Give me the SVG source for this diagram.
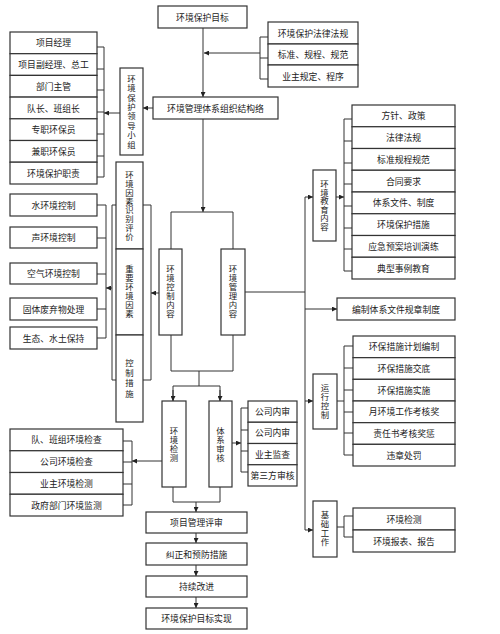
<svg xmlns="http://www.w3.org/2000/svg" width="500" height="634" viewBox="0 0 500 634">
<defs>
<style>
.bx{fill:#fff;stroke:#333;stroke-width:1.2}
.ln{fill:none;stroke:#333;stroke-width:1}
.t{font-family:"Noto Sans CJK SC","Noto Sans CJK JP",sans-serif;font-size:8.8px;fill:#222;text-anchor:middle;dominant-baseline:central}
.v{font-family:"Noto Sans CJK SC","Noto Sans CJK JP",sans-serif;font-size:8.4px;fill:#222;text-anchor:middle;writing-mode:vertical-rl;text-orientation:upright;letter-spacing:0.6px}
</style>
<marker id="ar" viewBox="0 0 6 6" refX="6" refY="3" markerWidth="5" markerHeight="5" markerUnits="userSpaceOnUse" orient="auto"><path d="M0,0L6,3L0,6z" fill="#222"/></marker>
</defs>
<rect width="500" height="634" fill="#fff"/>

<g id="connectors" class="ln">
<line x1="203" y1="28" x2="203" y2="97" marker-end="url(#ar)"/>
<line x1="260" y1="53" x2="204" y2="53" marker-end="url(#ar)"/>
<path d="M260,37V79M260,37H268M260,58H268M260,79H268"/>
<line x1="153" y1="108" x2="143" y2="108" marker-end="url(#ar)"/>
<line x1="120" y1="113" x2="104" y2="113" marker-end="url(#ar)"/>
<path d="M104,47V177M97,47H104M97,69H104M97,90H104M97,112H104M97,134H104M97,156H104M97,177H104"/>
<path d="M116,205H112V380H116M143,205H151V380H143"/>
<line x1="112" y1="288" x2="106" y2="288" marker-end="url(#ar)"/>
<path d="M106,205V338M97,205H106M97,238H106M97,274H106M97,309H106M97,338H106"/>
<line x1="159" y1="293" x2="151" y2="293" marker-end="url(#ar)"/>
<line x1="203" y1="119" x2="203" y2="212" marker-end="url(#ar)"/>
<path d="M171,249V212H233V249"/>
<path d="M171,335V371H233V335M199,371V386M173,401V386H220V401"/>
<line x1="173" y1="390" x2="173" y2="401" marker-end="url(#ar)"/>
<line x1="220" y1="390" x2="220" y2="401" marker-end="url(#ar)"/>
<path d="M173,487V502H220V487"/>
<line x1="196" y1="502" x2="196" y2="512" marker-end="url(#ar)"/>
<line x1="196" y1="533" x2="196" y2="543" marker-end="url(#ar)"/>
<line x1="196" y1="565" x2="196" y2="576" marker-end="url(#ar)"/>
<line x1="196" y1="597" x2="196" y2="608" marker-end="url(#ar)"/>
<line x1="162" y1="461" x2="132" y2="461" marker-end="url(#ar)"/>
<path d="M132,441V505M123,441H132M123,462H132M123,484H132M123,505H132"/>
<line x1="232" y1="443" x2="241" y2="443" marker-end="url(#ar)"/>
<path d="M241,408V472M241,408H248M241,430H248M241,451H248M241,472H248"/>
<path d="M245,292H305M305,197V530"/>
<line x1="305" y1="197" x2="313" y2="197" marker-end="url(#ar)"/>
<line x1="305" y1="309" x2="337" y2="309" marker-end="url(#ar)"/>
<line x1="305" y1="401" x2="313" y2="401" marker-end="url(#ar)"/>
<line x1="305" y1="530" x2="313" y2="530" marker-end="url(#ar)"/>
<line x1="336" y1="197" x2="344" y2="197" marker-end="url(#ar)"/>
<path d="M344,119V271M344,119H352M344,141H352M344,163H352M344,184H352M344,206H352M344,228H352M344,249H352M344,271H352"/>
<path d="M337,401H344M344,346V455M344,346H353M344,368H353M344,390H353M344,412H353M344,433H353M344,455H353"/>
<path d="M337,527H344M344,516V537M344,516H353M344,537H353"/>
</g>

<g id="n-goal"><rect class="bx" x="158" y="6" width="89" height="22"/><text class="t" x="202.5" y="17">环境保护目标</text></g>
<g id="n-law1"><rect class="bx" x="268" y="22" width="90" height="22"/><text class="t" x="313" y="33">环境保护法律法规</text></g>
<g id="n-law2"><rect class="bx" x="268" y="44" width="90" height="21"/><text class="t" x="313" y="54.5">标准、规程、规范</text></g>
<g id="n-law3"><rect class="bx" x="268" y="65" width="90" height="22"/><text class="t" x="313" y="76">业主规定、程序</text></g>
<g id="n-org"><rect class="bx" x="153" y="97" width="125" height="22"/><text class="t" x="215.5" y="108">环境管理体系组织结构络</text></g>

<g id="n-p1"><rect class="bx" x="10" y="32" width="87" height="21.7"/><text class="t" x="53.5" y="42.9">项目经理</text></g>
<g id="n-p2"><rect class="bx" x="10" y="53.7" width="87" height="21.7"/><text class="t" x="53.5" y="64.6">项目副经理、总工</text></g>
<g id="n-p3"><rect class="bx" x="10" y="75.4" width="87" height="21.7"/><text class="t" x="53.5" y="86.3">部门主管</text></g>
<g id="n-p4"><rect class="bx" x="10" y="97.1" width="87" height="21.7"/><text class="t" x="53.5" y="108">队长、班组长</text></g>
<g id="n-p5"><rect class="bx" x="10" y="118.8" width="87" height="21.7"/><text class="t" x="53.5" y="129.7">专职环保员</text></g>
<g id="n-p6"><rect class="bx" x="10" y="140.5" width="87" height="21.7"/><text class="t" x="53.5" y="151.4">兼职环保员</text></g>
<g id="n-p7"><rect class="bx" x="10" y="162.2" width="87" height="21.8"/><text class="t" x="53.5" y="173.1">环境保护职责</text></g>

<g id="n-lead"><rect class="bx" x="120" y="68" width="23" height="87"/><text class="v" x="131.5" y="112" style="letter-spacing:1px">环境保护领导小组</text></g>

<g id="n-f1"><rect class="bx" x="116" y="162" width="27" height="87"/><text class="v" x="129.5" y="206" style="letter-spacing:0.4px">环境因素识别评价</text></g>
<g id="n-f2"><rect class="bx" x="116" y="249" width="27" height="86"/><text class="v" x="129.5" y="292">重要环境因素</text></g>
<g id="n-f3"><rect class="bx" x="116" y="335" width="27" height="87"/><text class="v" x="129.5" y="379" style="letter-spacing:2px">控制措施</text></g>

<g id="n-c1"><rect class="bx" x="10" y="194" width="87" height="22"/><text class="t" x="53.5" y="205">水环境控制</text></g>
<g id="n-c2"><rect class="bx" x="10" y="227" width="87" height="21"/><text class="t" x="53.5" y="237.5">声环境控制</text></g>
<g id="n-c3"><rect class="bx" x="10" y="263" width="87" height="21"/><text class="t" x="53.5" y="273.5">空气环境控制</text></g>
<g id="n-c4"><rect class="bx" x="10" y="298" width="87" height="22"/><text class="t" x="53.5" y="309">固体废弃物处理</text></g>
<g id="n-c5"><rect class="bx" x="10" y="327" width="87" height="22"/><text class="t" x="53.5" y="338">生态、水土保持</text></g>

<g id="n-ctrl"><rect class="bx" x="159" y="249" width="23" height="86"/><text class="v" x="170.5" y="292">环境控制内容</text></g>
<g id="n-mgmt"><rect class="bx" x="221" y="249" width="24" height="86"/><text class="v" x="233" y="292">环境管理内容</text></g>

<g id="n-mon"><rect class="bx" x="162" y="401" width="24" height="86"/><text class="v" x="174" y="444.5">环境检测</text></g>
<g id="n-aud"><rect class="bx" x="209" y="401" width="23" height="86"/><text class="v" x="220.5" y="444.5">体系审核</text></g>

<g id="n-m1"><rect class="bx" x="10" y="429" width="113" height="21.75"/><text class="t" x="66.5" y="439.9">队、班组环境检查</text></g>
<g id="n-m2"><rect class="bx" x="10" y="450.75" width="113" height="21.75"/><text class="t" x="66.5" y="461.6">公司环境检查</text></g>
<g id="n-m3"><rect class="bx" x="10" y="472.5" width="113" height="21.75"/><text class="t" x="66.5" y="483.4">业主环境检测</text></g>
<g id="n-m4"><rect class="bx" x="10" y="494.25" width="113" height="21.75"/><text class="t" x="66.5" y="505.1">政府部门环境监测</text></g>

<g id="n-a1"><rect class="bx" x="248" y="401" width="49" height="21.25"/><text class="t" x="272.5" y="411.6">公司内审</text></g>
<g id="n-a2"><rect class="bx" x="248" y="422.25" width="49" height="21.25"/><text class="t" x="272.5" y="432.9">公司内审</text></g>
<g id="n-a3"><rect class="bx" x="248" y="443.5" width="49" height="21.25"/><text class="t" x="272.5" y="454.1">业主监查</text></g>
<g id="n-a4"><rect class="bx" x="248" y="464.75" width="49" height="21.25"/><text class="t" x="272.5" y="475.4">第三方审核</text></g>

<g id="n-rev"><rect class="bx" x="146" y="512" width="101" height="21"/><text class="t" x="196.5" y="522.5">项目管理评审</text></g>
<g id="n-cor"><rect class="bx" x="146" y="543" width="101" height="22"/><text class="t" x="196.5" y="554">纠正和预防措施</text></g>
<g id="n-imp"><rect class="bx" x="146" y="576" width="101" height="21"/><text class="t" x="196.5" y="586.5">持续改进</text></g>
<g id="n-ach"><rect class="bx" x="146" y="608" width="101" height="21"/><text class="t" x="196.5" y="618.5">环境保护目标实现</text></g>

<g id="n-edu"><rect class="bx" x="313" y="170" width="23" height="71"/><text class="v" x="324.5" y="205.5" style="letter-spacing:0.2px">环境教育内容</text></g>
<g id="n-e1"><rect class="bx" x="352" y="105" width="103" height="21.75"/><text class="t" x="403.5" y="115.9">方针、政策</text></g>
<g id="n-e2"><rect class="bx" x="352" y="126.75" width="103" height="21.75"/><text class="t" x="403.5" y="137.6">法律法规</text></g>
<g id="n-e3"><rect class="bx" x="352" y="148.5" width="103" height="21.75"/><text class="t" x="403.5" y="159.4">标准规程规范</text></g>
<g id="n-e4"><rect class="bx" x="352" y="170.25" width="103" height="21.75"/><text class="t" x="403.5" y="181.1">合同要求</text></g>
<g id="n-e5"><rect class="bx" x="352" y="192" width="103" height="21.75"/><text class="t" x="403.5" y="202.9">体系文件、制度</text></g>
<g id="n-e6"><rect class="bx" x="352" y="213.75" width="103" height="21.75"/><text class="t" x="403.5" y="224.6">环境保护措施</text></g>
<g id="n-e7"><rect class="bx" x="352" y="235.5" width="103" height="21.75"/><text class="t" x="403.5" y="246.4">应急预案培训演练</text></g>
<g id="n-e8"><rect class="bx" x="352" y="257.25" width="103" height="21.75"/><text class="t" x="403.5" y="268.1">典型事例教育</text></g>

<g id="n-doc"><rect class="bx" x="337" y="298" width="118" height="22"/><text class="t" x="396" y="309">编制体系文件规章制度</text></g>

<g id="n-op"><rect class="bx" x="313" y="374" width="24" height="55"/><text class="v" x="325" y="401.5">运行控制</text></g>
<g id="n-o1"><rect class="bx" x="353" y="336" width="102" height="21.67"/><text class="t" x="404" y="346.8">环保措施计划编制</text></g>
<g id="n-o2"><rect class="bx" x="353" y="357.67" width="102" height="21.67"/><text class="t" x="404" y="368.5">环保措施交底</text></g>
<g id="n-o3"><rect class="bx" x="353" y="379.33" width="102" height="21.67"/><text class="t" x="404" y="390.2">环保措施实施</text></g>
<g id="n-o4"><rect class="bx" x="353" y="401" width="102" height="21.67"/><text class="t" x="404" y="411.8">月环境工作考核奖</text></g>
<g id="n-o5"><rect class="bx" x="353" y="422.67" width="102" height="21.67"/><text class="t" x="404" y="433.5">责任书考核奖惩</text></g>
<g id="n-o6"><rect class="bx" x="353" y="444.33" width="102" height="21.67"/><text class="t" x="404" y="455.2">违章处罚</text></g>

<g id="n-base"><rect class="bx" x="313" y="501" width="24" height="56"/><text class="v" x="325" y="529">基础工作</text></g>
<g id="n-b1"><rect class="bx" x="353" y="508" width="102" height="22"/><text class="t" x="404" y="519">环境检测</text></g>
<g id="n-b2"><rect class="bx" x="353" y="530" width="102" height="22"/><text class="t" x="404" y="541">环境报表、报告</text></g>
</svg>
